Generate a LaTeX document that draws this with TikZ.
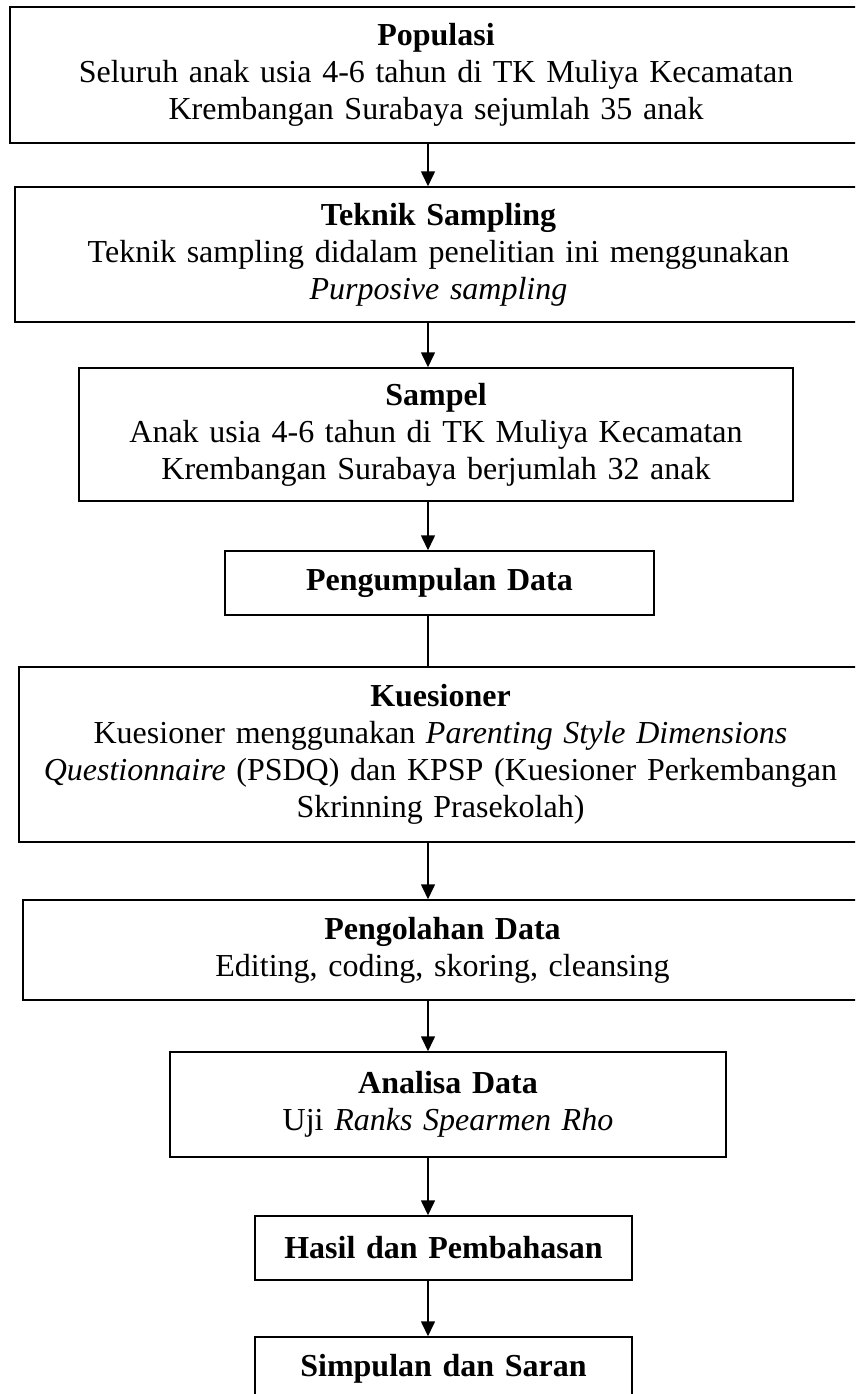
\documentclass[tikz,border=0pt]{standalone}
\usepackage{fontspec}
\setmainfont{Liberation Serif}
\usetikzlibrary{arrows.meta}
\begin{document}
\begin{tikzpicture}[x=1pt,y=-1pt,
  box/.style={draw=black,line width=1.5pt,rectangle,align=center,inner xsep=0pt,inner ysep=0pt,
    font=\fontsize{32}{37}\selectfont},
  arr/.style={line width=1.6pt,-{Triangle[length=15pt,width=14pt]}},
  ln/.style={line width=1.3pt}]
\clip (0,0) rectangle (855,1394);
\coordinate (ax) at (428,0);
\node[box,text width=852pt,minimum height=136pt] (b1) at (436,75)
  {\textbf{Populasi}\\Seluruh anak usia 4-6 tahun di TK Muliya Kecamatan\\Krembangan Surabaya sejumlah 35 anak};
\node[box,text width=847pt,minimum height=135pt] (b2) at (438.5,254.5)
  {\textbf{Teknik Sampling}\\Teknik sampling didalam penelitian ini menggunakan\\\textit{Purposive sampling}};
\node[box,text width=714pt,minimum height=133pt] (b3) at (436,434.5)
  {\textbf{Sampel}\\Anak usia 4-6 tahun di TK Muliya Kecamatan\\Krembangan Surabaya berjumlah 32 anak};
\node[box,text width=429pt,minimum height=64pt] (b4) at (439.5,583)
  {\textbf{Pengumpulan Data}};
\node[box,text width=843pt,minimum height=175pt] (b5) at (440.5,754.5)
  {\textbf{Kuesioner}\\Kuesioner menggunakan \textit{Parenting Style Dimensions}\\\textit{Questionnaire} (PSDQ) dan KPSP (Kuesioner Perkembangan\\Skrinning Prasekolah)};
\node[box,text width=839pt,minimum height=100pt] (b6) at (442.5,950)
  {\textbf{Pengolahan Data}\\Editing, coding, skoring, cleansing};
\node[box,text width=556pt,minimum height=105pt] (b7) at (448,1104.5)
  {\textbf{Analisa Data}\\Uji \textit{Ranks Spearmen Rho}};
\node[box,text width=377pt,minimum height=64pt] (b8) at (443.5,1248)
  {\textbf{Hasil dan Pembahasan}};
\node[box,text width=377pt,minimum height=64pt] (b9) at (443.5,1369)
  {\textbf{Simpulan dan Saran}};
\draw[arr] (b1.south -| ax) -- (b2.north -| ax);
\draw[arr] (b2.south -| ax) -- (b3.north -| ax);
\draw[arr] (b3.south -| ax) -- (b4.north -| ax);
\draw[ln] (b4.south -| ax) -- (b5.north -| ax);
\draw[arr] (b5.south -| ax) -- (b6.north -| ax);
\draw[arr] (b6.south -| ax) -- (b7.north -| ax);
\draw[arr] (b7.south -| ax) -- (b8.north -| ax);
\draw[arr] (b8.south -| ax) -- (b9.north -| ax);
\end{tikzpicture}
\end{document}
